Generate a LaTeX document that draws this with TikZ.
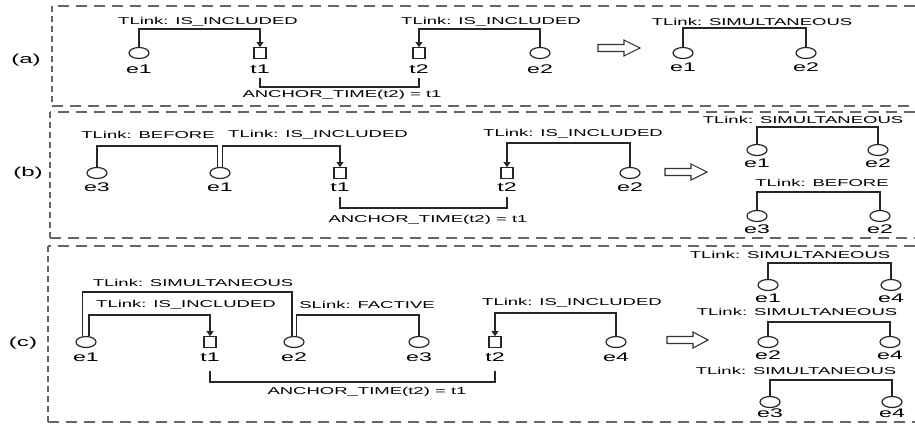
\documentclass[tikz,border=0pt]{standalone}
\usepackage{fontspec}
\setmainfont{Liberation Sans}
\usepackage{graphicx}
\usetikzlibrary{arrows.meta,calc,shapes.geometric}
\newcommand{\stx}[1]{\scalebox{1.85}[1]{#1}}
\begin{document}
\begin{tikzpicture}[x=1pt,y=-1pt,
  evt/.style={draw=black!85, line width=1.2pt, ellipse, minimum width=20pt, minimum height=11pt, inner sep=0pt},
  tim/.style={draw=black!85, line width=1.2pt, rectangle, minimum width=12pt, minimum height=10.5pt, inner sep=0pt},
  lbl/.style={font=\fontsize{10}{12}\selectfont, inner sep=0pt, text=black},
  nm/.style={font=\fontsize{12.5}{14}\selectfont, inner sep=0pt, text=black},
  pl/.style={font=\fontsize{13}{15}\selectfont, inner sep=0pt, text=black},
  link/.style={draw=black!85, line width=1.2pt},
  arr/.style={link, -{Triangle[length=5pt,width=7pt]}},
  hdash/.style={draw=black!60, line width=1.3pt, dash pattern=on 11pt off 7pt},
  vdash/.style={draw=black!60, line width=1.8pt, dash pattern=on 6pt off 4pt},
  bigarrow/.style={draw=black!80, line width=1.1pt, fill=white, line join=miter}
]
\useasboundingbox (0,0) rectangle (915,424);

% ---------- frames ----------
\draw[hdash] (915,6) -- (52,6);
\draw[vdash] (52,6) -- (52,106);
\draw[hdash] (52,106) -- (915,106);

\draw[hdash] (915,112) -- (50,112);
\draw[vdash] (50,112) -- (50,238);
\draw[hdash] (50,238) -- (915,238);

\draw[hdash] (915,246) -- (48,246);
\draw[vdash] (48,246) -- (48,422);
\draw[hdash] (48,422) -- (915,422);

% ---------- panel (a) ----------
\node[pl] (pa) at (26,60) {\stx{(a)}};
\node[evt] (ae1) at (139,53) {};
\node[nm] (ae1l) at (139,69) {\stx{e1}};
\node[tim] (at1) at (260,53) {};
\node[nm] (at1l) at (260,69) {\stx{t1}};
\node[tim] (at2) at (419,53) {};
\node[nm] (at2l) at (419,69) {\stx{t2}};
\node[evt] (ae2) at (540,53) {};
\node[nm] (ae2l) at (540,69) {\stx{e2}};
\node[lbl] (aL1) at (208,22) {\stx{TLink: IS\_INCLUDED}};
\node[lbl] (aL2) at (491,22) {\stx{TLink: IS\_INCLUDED}};
\draw[arr] (ae1.north) -- (ae1.north |- 0,29) -| (at1.north);
\draw[arr] (ae2.north) -- (ae2.north |- 0,29) -| (at2.north);
\node[lbl] (aanc) at (342,95) {\stx{ANCHOR\_TIME(t2) = t1}};
\draw[link] (at1l.south |- 0,78) -- (at1l.south |- 0,87) -- (at2l.south |- 0,87) -- (at2l.south |- 0,78);

\draw[bigarrow] (598,44.5) -- (624,44.5) -- (624,40) -- (640,48) -- (624,56) -- (624,51.5) -- (598,51.5) -- cycle;

\node[lbl] (aR) at (752,22) {\stx{TLink: SIMULTANEOUS}};
\node[evt] (are1) at (683,53) {};
\node[nm] (are1l) at (683,67) {\stx{e1}};
\node[evt] (are2) at (806,53) {};
\node[nm] (are2l) at (806,67) {\stx{e2}};
\draw[link] (are1.north) -- (are1.north |- 0,28) -| (are2.north);

% ---------- panel (b) ----------
\node[pl] (pb) at (28,173) {\stx{(b)}};
\node[evt] (be3) at (97,173) {};
\node[nm] (be3l) at (97,187) {\stx{e3}};
\node[evt] (be1) at (220,173) {};
\node[nm] (be1l) at (220,187) {\stx{e1}};
\node[tim] (bt1) at (340,173) {};
\node[nm] (bt1l) at (340,187) {\stx{t1}};
\node[tim] (bt2) at (507,173) {};
\node[nm] (bt2l) at (507,187) {\stx{t2}};
\node[evt] (be2) at (630,173) {};
\node[nm] (be2l) at (630,187) {\stx{e2}};
\node[lbl] (bL1) at (148,135) {\stx{TLink: BEFORE}};
\node[lbl] (bL2) at (318,135) {\stx{TLink: IS\_INCLUDED}};
\node[lbl] (bL3) at (573,134) {\stx{TLink: IS\_INCLUDED}};
\draw[link] (be3.north) -- (be3.north |- 0,146) -- ($(be1.north |- 0,146)+(-2.5,0)$) -- ($(be1.north)+(-2.5,0)$);
\draw[arr] ($(be1.north)+(2.5,0)$) -- ($(be1.north |- 0,146)+(2.5,0)$) -| (bt1.north);
\draw[arr] (be2.north) -- (be2.north |- 0,143) -| (bt2.north);
\node[lbl] (banc) at (428,220) {\stx{ANCHOR\_TIME(t2) = t1}};
\draw[link] (bt1l.south |- 0,197) -- (bt1l.south |- 0,208) -- (bt2l.south |- 0,208) -- (bt2l.south |- 0,197);

\draw[bigarrow] (665,168.5) -- (691,168.5) -- (691,164) -- (707,172) -- (691,180) -- (691,175.5) -- (665,175.5) -- cycle;

\node[lbl] (bR1) at (803,120) {\stx{TLink: SIMULTANEOUS}};
\node[evt] (bre1) at (757,150) {};
\node[nm] (bre1l) at (757,163) {\stx{e1}};
\node[evt] (bre2) at (878,150) {};
\node[nm] (bre2l) at (878,163) {\stx{e2}};
\draw[link] (bre1.north) -- (bre1.north |- 0,127) -| (bre2.north);
\node[lbl] (bR2) at (822,183) {\stx{TLink: BEFORE}};
\node[evt] (bre3) at (757,216) {};
\node[nm] (bre3l) at (757,229) {\stx{e3}};
\node[evt] (bre2b) at (880,216) {};
\node[nm] (bre2bl) at (880,229) {\stx{e2}};
\draw[link] (bre3.north) -- (bre3.north |- 0,192) -| (bre2b.north);

% ---------- panel (c) ----------
\node[pl] (pc) at (23,343) {\stx{(c)}};
\node[evt] (ce1) at (86,342) {};
\node[nm] (ce1l) at (86,357) {\stx{e1}};
\node[tim] (ct1) at (210,342) {};
\node[nm] (ct1l) at (210,357) {\stx{t1}};
\node[evt] (ce2) at (294,342) {};
\node[nm] (ce2l) at (294,357) {\stx{e2}};
\node[evt] (ce3) at (419,342) {};
\node[nm] (ce3l) at (419,357) {\stx{e3}};
\node[tim] (ct2) at (495,342) {};
\node[nm] (ct2l) at (495,357) {\stx{t2}};
\node[evt] (ce4) at (616,342) {};
\node[nm] (ce4l) at (616,357) {\stx{e4}};
\node[lbl] (cL1) at (193,283) {\stx{TLink: SIMULTANEOUS}};
\node[lbl] (cL2) at (186,305) {\stx{TLink: IS\_INCLUDED}};
\node[lbl] (cL3) at (367,305) {\stx{SLink: FACTIVE}};
\node[lbl] (cL4) at (572,303) {\stx{TLink: IS\_INCLUDED}};
\draw[link] ($(ce1.north)+(-3.5,0)$) -- ($(ce1.north |- 0,292)+(-3.5,0)$) -- ($(ce2.north |- 0,292)+(-2,0)$) -- ($(ce2.north)+(-2,0)$);
\draw[arr] ($(ce1.north)+(3,0)$) -- ($(ce1.north |- 0,315)+(3,0)$) -| (ct1.north);
\draw[link] ($(ce2.north)+(2.5,0)$) -- ($(ce2.north |- 0,315)+(2.5,0)$) -| (ce3.north);
\draw[arr] (ce4.north) -- (ce4.north |- 0,313) -| (ct2.north);
\node[lbl] (canc) at (367,392) {\stx{ANCHOR\_TIME(t2) = t1}};
\draw[link] (ct1l.south |- 0,371) -- (ct1l.south |- 0,382) -- (ct2l.south |- 0,382) -- (ct2l.south |- 0,371);

\draw[bigarrow] (667,336.5) -- (693,336.5) -- (693,332) -- (708,340) -- (693,348) -- (693,343.5) -- (667,343.5) -- cycle;

\node[lbl] (cR1) at (790,255) {\stx{TLink: SIMULTANEOUS}};
\node[evt] (cre1) at (768,285) {};
\node[nm] (cre1l) at (768,298) {\stx{e1}};
\node[evt] (cre4a) at (891,285) {};
\node[nm] (cre4al) at (891,298) {\stx{e4}};
\draw[link] (cre1.north) -- (cre1.north |- 0,263) -| (cre4a.north);
\node[lbl] (cR2) at (797,312) {\stx{TLink: SIMULTANEOUS}};
\node[evt] (cre2) at (768,342) {};
\node[nm] (cre2l) at (768,355) {\stx{e2}};
\node[evt] (cre4b) at (890,342) {};
\node[nm] (cre4bl) at (890,355) {\stx{e4}};
\draw[link] (cre2.north) -- (cre2.north |- 0,322) -| (cre4b.north);
\node[lbl] (cR3) at (796,371) {\stx{TLink: SIMULTANEOUS}};
\node[evt] (cre3) at (770,402) {};
\node[nm] (cre3l) at (770,413) {\stx{e3}};
\node[evt] (cre4c) at (892,402) {};
\node[nm] (cre4cl) at (892,413) {\stx{e4}};
\draw[link] (cre3.north) -- (cre3.north |- 0,380) -| (cre4c.north);
\end{tikzpicture}
\end{document}
